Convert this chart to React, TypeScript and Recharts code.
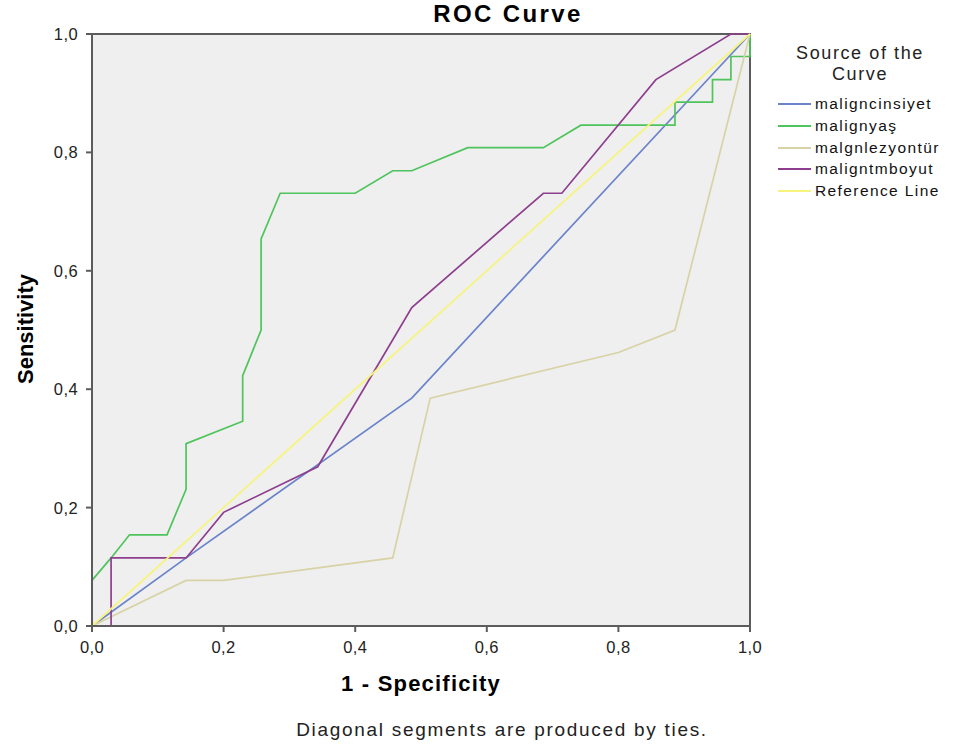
import { Line, LineChart, ReferenceArea, XAxis, YAxis } from 'recharts';

// ROC points (x = 1 - specificity, y = sensitivity)
const cinsiyetX = [0, 0.143, 0.486, 1];
const cinsiyetY = [0, 0.115, 0.385, 1];

const yasX = [0, 0, 0.029, 0.057, 0.114, 0.143, 0.143, 0.229, 0.229, 0.257, 0.257, 0.286, 0.4, 0.457, 0.486, 0.571, 0.686, 0.743, 0.886, 0.886, 0.943, 0.943, 0.971, 0.971, 1, 1];
const yasY = [0, 0.077, 0.115, 0.154, 0.154, 0.231, 0.308, 0.346, 0.423, 0.5, 0.654, 0.731, 0.731, 0.769, 0.769, 0.808, 0.808, 0.846, 0.846, 0.885, 0.885, 0.923, 0.923, 0.962, 0.962, 1];

const lezyonX = [0, 0.143, 0.2, 0.457, 0.514, 0.8, 0.886, 1];
const lezyonY = [0, 0.077, 0.077, 0.115, 0.385, 0.462, 0.5, 1];

const tmboyutX = [0, 0.029, 0.029, 0.143, 0.2, 0.343, 0.486, 0.686, 0.714, 0.857, 0.971, 1];
const tmboyutY = [0, 0, 0.115, 0.115, 0.192, 0.269, 0.538, 0.731, 0.731, 0.923, 1, 1];

const refX = [0, 1];
const refY = [0, 1];

const axisTicks = [0, 0.2, 0.4, 0.6, 0.8, 1];

const series = [
  { name: 'maligncinsiyet', color: '#6a83cb', xs: cinsiyetX, ys: cinsiyetY },
  { name: 'malignyaş', color: '#4fc45c', xs: yasX, ys: yasY },
  { name: 'malgnlezyontür', color: '#d8d3a6', xs: lezyonX, ys: lezyonY },
  { name: 'maligntmboyut', color: '#8d3e8e', xs: tmboyutX, ys: tmboyutY },
  { name: 'Reference Line', color: '#f7f47c', xs: refX, ys: refY },
];

const fmt = (v: number) => v.toFixed(1).replace('.', ',');
const axisColor = '#5c5c5c';
const sans = '"Liberation Sans", Arial, sans-serif';

const XTick = (props: any) => {
  const { x, y, payload } = props;
  return (
    <text x={x} y={y + 19} textAnchor="middle" fontSize={16.5} fontFamily={sans} fill="#222" letterSpacing={0.4}>
      {fmt(payload.value)}
    </text>
  );
};

const YTick = (props: any) => {
  const { x, y, payload } = props;
  return (
    <text x={x - 6} y={y + 6} textAnchor="end" fontSize={16.5} fontFamily={sans} fill="#222" letterSpacing={0.4}>
      {fmt(payload.value)}
    </text>
  );
};

export default function App() {
  return (
    <div style={{ position: 'absolute', left: 0, top: 0, width: 953, height: 751, background: '#fff', fontFamily: sans }}>
      <LineChart width={953} height={751} margin={{ top: 34, right: 203, left: 0, bottom: 0 }}>
        <ReferenceArea x1={0} x2={1} y1={0} y2={1} fill="#efefef" fillOpacity={1} stroke={axisColor} strokeWidth={2} />
        <XAxis
          type="number"
          dataKey="x"
          domain={[0, 1]}
          ticks={axisTicks}
          height={125}
          tickSize={6}
          axisLine={{ stroke: axisColor, strokeWidth: 2 }}
          tickLine={{ stroke: axisColor, strokeWidth: 2 }}
          tick={<XTick />}
        />
        <YAxis
          type="number"
          domain={[0, 1]}
          ticks={axisTicks}
          width={92}
          tickSize={6}
          axisLine={{ stroke: axisColor, strokeWidth: 2 }}
          tickLine={{ stroke: axisColor, strokeWidth: 2 }}
          tick={<YTick />}
        />
        {series.map((s) => (
          <Line
            key={s.name}
            name={s.name}
            data={s.xs.map((x, i) => ({ x, y: s.ys[i] }))}
            dataKey="y"
            type="linear"
            stroke={s.color}
            strokeWidth={1.7}
            dot={false}
            activeDot={false}
            isAnimationActive={false}
          />
        ))}
      </LineChart>

      <div style={{ position: 'absolute', left: 408, top: 0, width: 200, textAlign: 'center', fontWeight: 'bold', fontSize: 24, letterSpacing: 2.4 }}>
        ROC Curve
      </div>
      <div style={{ position: 'absolute', left: 271, top: 671, width: 300, textAlign: 'center', fontWeight: 'bold', fontSize: 22, letterSpacing: 1.2 }}>
        1 - Specificity
      </div>
      <div
        style={{
          position: 'absolute',
          left: 27 - 100,
          top: 329 - 14,
          width: 200,
          height: 28,
          textAlign: 'center',
          fontWeight: 'bold',
          fontSize: 22,
          transform: 'rotate(-90deg)',
        }}
      >
        Sensitivity
      </div>
      <div style={{ position: 'absolute', left: 252, top: 719, width: 500, textAlign: 'center', fontSize: 19, letterSpacing: 1.7, color: '#222' }}>
        Diagonal segments are produced by ties.
      </div>

      <div style={{ position: 'absolute', left: 770, top: 43, width: 180, textAlign: 'center', fontSize: 18, lineHeight: '21px', letterSpacing: 1.6, color: '#222' }}>
        Source of the
        <br />
        Curve
      </div>
      {series.map((s, i) => (
        <div key={s.name} style={{ position: 'absolute', left: 778, top: 95 + i * 21.8, height: 18, display: 'flex', alignItems: 'center', whiteSpace: 'nowrap' }}>
          <span style={{ display: 'inline-block', width: 33, height: 2, background: s.color, marginRight: 4 }} />
          <span style={{ fontSize: 15.5, letterSpacing: 1.4, color: '#111' }}>{s.name}</span>
        </div>
      ))}
    </div>
  );
}
